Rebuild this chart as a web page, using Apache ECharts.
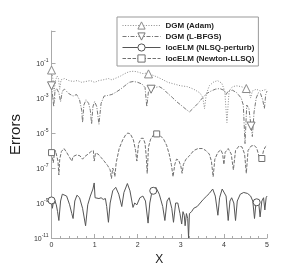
<!DOCTYPE html>
<html><head><meta charset="utf-8">
<script src="https://cdn.jsdelivr.net/npm/echarts@6/dist/echarts.min.js"></script>
<style>html,body{margin:0;padding:0;background:#fff}#c{width:305px;height:271px}</style>
</head><body><div id="c"></div>
<script>
const seriesNames = ['DGM (Adam)', 'DGM (L-BFGS)', 'locELM (NLSQ-perturb)', 'locELM (Newton-LLSQ)'];
const xTicks = [0, 1, 2, 3, 4, 5];
const yTickExponents = [-11, -9, -7, -5, -3, -1];

const dgmAdam = [[0,4.0e-2],[0.03,1.3e-2],[0.06,2.5e-3],[0.09,1.0e-2],[0.13,1.8e-2],[0.16,1.3e-2],[0.19,3.2e-3],[0.22,1.1e-2],[0.3,1.3e-2],[0.4,1.0e-2],[0.5,8.9e-3],[0.6,1.0e-2],[0.7,7.9e-3],[0.8,8.9e-3],[0.9,1.0e-2],[1.0,7.9e-3],[1.1,1.0e-2],[1.2,1.1e-2],[1.32,1.3e-2],[1.4,1.1e-2],[1.5,1.4e-2],[1.6,1.8e-2],[1.7,2.5e-2],[1.8,3.2e-2],[1.9,3.4e-2],[1.98,3.2e-2],[2.05,2.8e-2],[2.12,2.5e-2],[2.18,2.6e-2],[2.25,2.4e-2],[2.35,2.0e-2],[2.45,1.6e-2],[2.56,1.2e-2],[2.7,7.9e-3],[2.85,6.3e-3],[3.0,5.0e-3],[3.15,4.5e-3],[3.3,3.2e-3],[3.44,2.0e-3],[3.51,1.1e-3],[3.55,2.5e-4],[3.59,1.6e-3],[3.66,5.0e-3],[3.75,7.9e-3],[3.85,1.0e-2],[3.95,7.1e-3],[4.02,2.5e-3],[4.07,4.0e-5],[4.12,2.5e-3],[4.2,4.5e-3],[4.3,5.0e-3],[4.4,4.5e-3],[4.52,3.5e-3],[4.58,2.8e-3],[4.62,1.0e-3],[4.66,2.5e-3],[4.75,3.2e-3],[4.85,2.5e-3],[4.92,2.8e-3],[5.0,3.2e-3]];
const dgmLbfgs = [[0,5.0e-3],[0.03,1.0e-3],[0.05,3.2e-4],[0.08,2.5e-3],[0.12,3.5e-3],[0.17,2.0e-3],[0.21,6.3e-4],[0.25,2.5e-3],[0.3,3.2e-3],[0.4,1.8e-3],[0.5,1.3e-3],[0.58,1.6e-3],[0.65,7.9e-4],[0.7,2.0e-4],[0.72,4.0e-5],[0.75,4.0e-4],[0.8,7.9e-4],[0.86,5.0e-4],[0.9,2.0e-4],[0.93,3.2e-5],[0.96,3.2e-4],[1.0,6.3e-4],[1.05,3.2e-4],[1.1,3.2e-5],[1.15,5.0e-4],[1.22,1.3e-3],[1.3,1.4e-3],[1.4,1.6e-3],[1.5,2.2e-3],[1.6,3.2e-3],[1.7,5.0e-3],[1.8,7.9e-3],[1.9,8.9e-3],[2.0,7.9e-3],[2.1,6.3e-3],[2.17,4.0e-3],[2.21,3.2e-4],[2.25,2.5e-3],[2.31,3.2e-3],[2.4,4.0e-3],[2.5,4.5e-3],[2.6,3.2e-3],[2.7,1.8e-3],[2.8,1.1e-3],[2.9,6.3e-4],[3.0,4.0e-4],[3.1,2.5e-4],[3.2,1.6e-4],[3.3,2.8e-4],[3.4,5.0e-4],[3.5,1.0e-3],[3.6,1.8e-3],[3.7,2.5e-3],[3.8,3.2e-3],[3.9,3.5e-3],[4.0,2.8e-3],[4.05,1.6e-3],[4.1,2.5e-3],[4.2,2.8e-3],[4.3,2.0e-3],[4.4,1.0e-3],[4.45,4.0e-4],[4.49,2.5e-6],[4.53,4.0e-4],[4.58,2.5e-4],[4.63,2.5e-5],[4.66,6.3e-6],[4.7,1.6e-4],[4.75,1.0e-3],[4.8,2.0e-3],[4.85,1.8e-3],[4.9,7.9e-4],[4.94,2.5e-4],[4.97,1.6e-3],[5.0,2.5e-3]];
const locNlsq = [[0,1.4e-9],[0.02,5.0e-10],[0.04,1.0e-9],[0.07,1.6e-9],[0.11,7.9e-10],[0.14,3.2e-10],[0.17,1.0e-10],[0.21,1.3e-9],[0.25,3.2e-9],[0.29,3.7e-9],[0.35,2.5e-9],[0.42,7.9e-10],[0.47,2.5e-10],[0.5,1.3e-10],[0.54,1.3e-9],[0.59,2.8e-9],[0.65,2.0e-9],[0.72,5.0e-10],[0.79,5.0e-11],[0.84,7.9e-10],[0.9,2.5e-9],[0.96,6.3e-9],[0.99,1.4e-8],[1.01,2.0e-9],[1.05,2.2e-9],[1.1,1.8e-9],[1.15,2.0e-9],[1.2,1.6e-9],[1.25,1.8e-9],[1.28,6.3e-10],[1.32,7.9e-11],[1.36,1.0e-9],[1.42,5.0e-9],[1.49,7.9e-9],[1.56,3.2e-9],[1.63,6.3e-10],[1.68,4.0e-9],[1.76,1.3e-8],[1.82,5.0e-9],[1.89,5.6e-10],[1.93,1.0e-9],[1.98,7.9e-10],[2.05,2.0e-9],[2.12,2.5e-9],[2.18,1.3e-9],[2.24,7.1e-11],[2.28,1.0e-9],[2.32,3.2e-9],[2.36,5.0e-9],[2.42,7.9e-9],[2.5,3.2e-9],[2.58,6.3e-10],[2.63,1.0e-10],[2.68,1.3e-9],[2.73,2.0e-9],[2.79,5.0e-10],[2.83,7.9e-11],[2.88,1.0e-9],[2.93,1.0e-9],[2.98,2.5e-10],[3.02,6.3e-11],[3.05,3.2e-10],[3.08,2.0e-10],[3.1,5.0e-11],[3.13,2.5e-10],[3.16,1.3e-10],[3.18,1.0e-11],[3.2,2.5e-10],[3.25,3.2e-10],[3.3,5.0e-10],[3.38,6.3e-10],[3.45,1.0e-9],[3.52,1.6e-9],[3.6,2.5e-9],[3.66,3.5e-9],[3.74,6.3e-9],[3.8,2.5e-9],[3.86,2.0e-10],[3.9,2.0e-9],[3.96,6.3e-9],[4.0,7.1e-9],[4.05,2.5e-9],[4.1,1.0e-10],[4.14,1.3e-9],[4.18,2.0e-9],[4.23,1.0e-9],[4.27,1.0e-10],[4.31,1.3e-9],[4.38,3.2e-9],[4.46,4.0e-9],[4.55,3.5e-9],[4.62,2.5e-9],[4.67,1.3e-9],[4.71,1.3e-10],[4.74,7.9e-10],[4.76,1.1e-9],[4.8,1.6e-9],[4.84,1.6e-10],[4.88,1.3e-9],[4.92,2.0e-9],[4.95,4.0e-10],[4.98,2.0e-9],[5.0,2.5e-9]];
const locNewton = [[0,7.6e-7],[0.02,4.0e-7],[0.04,2.0e-7],[0.06,5.0e-7],[0.09,1.0e-6],[0.12,7.9e-7],[0.15,2.5e-7],[0.17,4.0e-8],[0.19,3.2e-7],[0.23,8.9e-7],[0.29,1.3e-6],[0.35,7.9e-7],[0.42,4.0e-7],[0.47,2.5e-7],[0.5,4.5e-7],[0.58,5.6e-7],[0.66,5.0e-7],[0.72,3.2e-7],[0.77,4.5e-7],[0.85,6.3e-7],[0.92,8.9e-7],[0.97,1.0e-6],[0.99,2.5e-7],[1.02,7.1e-7],[1.08,6.3e-7],[1.15,4.0e-7],[1.22,2.5e-7],[1.3,1.4e-7],[1.36,7.9e-8],[1.39,2.5e-8],[1.42,1.0e-7],[1.45,6.3e-8],[1.47,3.2e-8],[1.5,2.0e-7],[1.57,1.3e-6],[1.65,4.0e-6],[1.72,7.9e-6],[1.77,1.0e-5],[1.83,8.9e-6],[1.9,4.0e-6],[1.95,1.0e-6],[1.98,2.5e-7],[2.02,2.5e-6],[2.08,5.0e-6],[2.13,5.0e-6],[2.17,2.5e-6],[2.2,4.0e-7],[2.22,5.0e-8],[2.25,1.6e-6],[2.3,4.5e-6],[2.37,7.9e-6],[2.44,8.9e-6],[2.52,7.1e-6],[2.6,4.5e-6],[2.67,2.0e-6],[2.73,6.3e-7],[2.78,1.6e-7],[2.82,3.2e-8],[2.86,1.6e-7],[2.9,3.2e-7],[2.95,2.8e-7],[3.0,1.3e-7],[3.03,5.0e-8],[3.06,1.6e-7],[3.12,3.2e-7],[3.2,5.0e-7],[3.3,1.0e-6],[3.4,1.3e-6],[3.5,1.3e-6],[3.58,1.0e-6],[3.66,6.3e-7],[3.71,2.5e-7],[3.75,3.2e-8],[3.79,3.2e-7],[3.86,7.9e-7],[3.93,1.1e-6],[3.97,6.3e-7],[4.0,1.6e-7],[4.03,7.9e-7],[4.1,1.3e-6],[4.17,6.3e-7],[4.22,7.9e-8],[4.27,1.0e-6],[4.35,1.8e-6],[4.42,1.6e-6],[4.48,6.3e-7],[4.52,5.0e-8],[4.56,1.0e-6],[4.63,1.8e-6],[4.7,2.0e-6],[4.76,1.4e-6],[4.8,6.3e-7],[4.84,2.5e-7],[4.88,3.5e-7],[4.92,1.0e-6],[4.96,1.6e-6],[5.0,2.0e-6]];

const markerX = {
  'DGM (Adam)': [0, 2.25, 4.52],
  'DGM (L-BFGS)': [0, 2.31, 4.63],
  'locELM (NLSQ-perturb)': [0, 2.36, 4.76],
  'locELM (Newton-LLSQ)': [0, 2.44, 4.88]
};

const styles = [
  { data: dgmAdam,  symbol: 'triangle', rotate: 0,   size: 8, type: [1, 1.6], color: '#8a8a8a' },
  { data: dgmLbfgs, symbol: 'triangle', rotate: 180, size: 8, type: [4, 1.5, 1, 1.5], color: '#777' },
  { data: locNlsq,  symbol: 'circle',   rotate: 0,   size: 7, type: 'solid', color: '#555' },
  { data: locNewton, symbol: 'rect',    rotate: 0,   size: 6, type: [3.5, 1.5], color: '#707070' }
];

const FONT = '"Liberation Sans", Arial, sans-serif';

const series = seriesNames.map((name, i) => {
  const st = styles[i];
  const marks = markerX[name];
  return {
    name: name,
    type: 'line',
    symbol: st.symbol,
    symbolRotate: st.rotate,
    symbolSize: st.size,
    showAllSymbol: true,
    smooth: false,
    animation: false,
    lineStyle: { color: st.color, width: 1, type: st.type },
    itemStyle: { color: '#fff', borderColor: st.color, borderWidth: 1 },
    data: st.data.map(p => marks.indexOf(p[0]) >= 0
      ? { value: p }
      : { value: p, symbol: 'none' })
  };
});

const chart = echarts.init(document.getElementById('c'), null, { renderer: 'canvas' });
chart.setOption({
  animation: false,
  backgroundColor: '#fff',
  textStyle: { fontFamily: FONT },
  grid: { left: 40, right: 38, top: 31, bottom: 33 },
  legend: {
    data: seriesNames,
    orient: 'vertical',
    left: 117, top: 17,
    itemWidth: 38, itemHeight: 9, itemGap: 2,
    padding: [4, 4, 3, 5],
    borderColor: '#999', borderWidth: 1, backgroundColor: '#fff',
    lineStyle: { width: 1 },
    itemStyle: { borderWidth: 1 },
    textStyle: { fontFamily: FONT, fontSize: 8, fontWeight: 'bold', color: '#222', lineHeight: 9, padding: [0, 0, 0, 0] }
  },
  xAxis: {
    type: 'value', min: 0, max: 5, interval: 1,
    name: 'X', nameLocation: 'middle', nameGap: 12,
    nameTextStyle: { fontSize: 12, color: '#222', fontFamily: FONT },
    axisLine: { lineStyle: { color: '#aaa', width: 1 } },
    axisTick: { inside: true, length: 4, lineStyle: { color: '#aaa' } },
    minorTick: { show: true, splitNumber: 5, length: 2, lineStyle: { color: '#aaa' } },
    splitLine: { show: false },
    axisLabel: { fontSize: 7, color: '#333', margin: 4,
      formatter: v => xTicks.indexOf(v) >= 0 ? String(v) : '' }
  },
  yAxis: {
    type: 'log', logBase: 10, min: 1e-11, max: 6.8, interval: 2,
    name: 'Errors', nameLocation: 'middle', nameGap: 27,
    nameTextStyle: { fontSize: 15, color: '#222', fontFamily: FONT },
    axisLine: { lineStyle: { color: '#aaa', width: 1 } },
    axisTick: { inside: true, length: 4, lineStyle: { color: '#aaa' } },
    splitLine: { show: false },
    axisLabel: {
      margin: 3,
      formatter: v => {
        const e = Math.log10(v);
        const r = Math.round(e);
        if (Math.abs(e - r) > 0.01 || yTickExponents.indexOf(r) < 0) return '';
        return '{b|10}{s|' + r + '}';
      },
      rich: {
        b: { fontSize: 7, color: '#333', fontFamily: FONT, verticalAlign: 'bottom', lineHeight: 9 },
        s: { fontSize: 5, color: '#333', fontFamily: FONT, verticalAlign: 'top', lineHeight: 5 }
      }
    }
  },
  series: series
});
</script>
</body></html>
